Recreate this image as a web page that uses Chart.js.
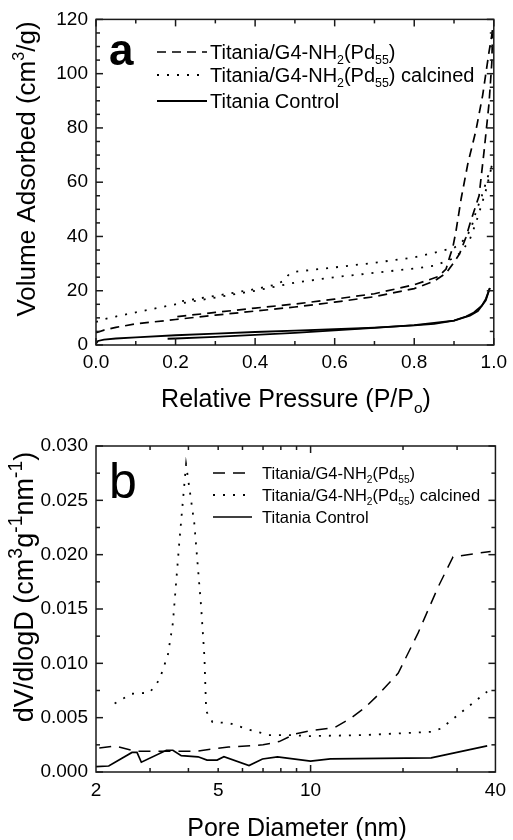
<!DOCTYPE html>
<html>
<head>
<meta charset="utf-8">
<script src="https://cdn.jsdelivr.net/npm/chart.js@4.4.1/dist/chart.umd.min.js"></script>
<style>
  html, body { margin: 0; padding: 0; background: #fff; }
  canvas { display: block; }
</style>
</head>
<body>
<canvas id="iso" width="513" height="420"></canvas>
<canvas id="psd" width="513" height="420"></canvas>
<script>
const FONT = "'Liberation Sans', Arial, Helvetica, sans-serif";

// ---- panel a: N2 isotherms (P/Po, cm3/g) ----
const pdAdsP = [0.0, 0.02, 0.05, 0.1, 0.2, 0.3, 0.4, 0.5, 0.6, 0.7, 0.8, 0.85, 0.88, 0.9, 0.914, 0.93, 0.94, 0.963, 0.976, 0.988, 0.995, 0.997];
const pdAdsV = [4.5, 5.5, 6.5, 7.8, 9.4, 11.0, 12.5, 14.0, 15.8, 17.8, 20.8, 23.5, 26.5, 30.5, 33.6, 39.7, 44.7, 55, 72, 89, 104, 116];
const pdDesP = [0.997, 0.988, 0.972, 0.955, 0.935, 0.918, 0.905, 0.897, 0.889, 0.88, 0.86, 0.8, 0.7, 0.6, 0.5, 0.4, 0.3, 0.2];
const pdDesV = [116, 108, 92, 79, 67, 54, 42, 36, 32.4, 28, 25.2, 22.2, 18.9, 16.9, 15.1, 13.6, 12.0, 10.4];

const calAdsP = [0.0, 0.02, 0.05, 0.1, 0.2, 0.3, 0.4, 0.45, 0.5, 0.6, 0.7, 0.8, 0.85, 0.9, 0.92, 0.94, 0.955, 0.97, 0.982, 0.99, 0.995];
const calAdsV = [8.5, 9.5, 10.5, 12.0, 15.0, 17.5, 20.0, 21.5, 23.0, 25.0, 26.6, 28.2, 29.2, 32.0, 34.5, 39, 45, 52, 58, 63, 66];
const calDesP = [0.995, 0.985, 0.97, 0.955, 0.943, 0.93, 0.915, 0.9, 0.85, 0.8, 0.7, 0.6, 0.5, 0.485, 0.47, 0.45, 0.4, 0.3, 0.2];
const calDesV = [66, 62, 55, 49, 43, 39.5, 37.3, 35.8, 34.0, 32.3, 30.3, 28.6, 27.0, 26.0, 23.5, 22.2, 20.6, 18.1, 15.8];

const ctlAdsP = [0.0, 0.005, 0.02, 0.05, 0.1, 0.2, 0.3, 0.4, 0.5, 0.6, 0.7, 0.8, 0.85, 0.9, 0.93, 0.95, 0.97, 0.98, 0.99];
const ctlAdsV = [0.5, 1.5, 2.0, 2.4, 2.8, 3.6, 4.2, 4.8, 5.3, 5.8, 6.4, 7.2, 7.8, 9.0, 10.5, 12.0, 14.5, 17.0, 21.0];
const ctlDesP = [0.99, 0.98, 0.96, 0.94, 0.9, 0.8, 0.7, 0.6, 0.5, 0.4, 0.3, 0.2, 0.18];
const ctlDesV = [21.0, 16.5, 12.5, 10.8, 9.0, 7.3, 6.3, 5.4, 4.5, 3.7, 3.0, 2.4, 2.3];

// ---- panel b: pore size distribution (nm, cm3 g-1 nm-1) ----
const pdDiam = [2.05, 2.3, 2.7, 3.5, 4.2, 5.4, 7.0, 7.9, 8.9, 10.0, 12.0, 13.6, 15.0, 16.6, 19.3, 22.4, 26.0, 29.1, 38.6];
const pdDv = [0.0022, 0.0024, 0.0019, 0.0019, 0.0019, 0.0023, 0.0025, 0.0028, 0.0035, 0.0038, 0.0041, 0.0050, 0.0059, 0.0071, 0.0091, 0.0128, 0.0170, 0.0198, 0.0203];

const calDiam = [2.3, 2.61, 2.99, 3.22, 3.43, 3.56, 3.74, 3.93, 4.18, 4.40, 4.51, 4.57, 4.79, 5.43, 6.30, 7.31, 8.49, 9.86, 15.0, 24.7, 26.6, 31.6, 37.6];
const calDv = [0.0063, 0.0072, 0.0073, 0.0085, 0.0108, 0.0137, 0.0213, 0.0283, 0.0229, 0.0152, 0.0106, 0.0056, 0.0046, 0.0045, 0.0039, 0.0034, 0.0034, 0.0033, 0.0034, 0.0037, 0.0040, 0.0057, 0.0074];

const ctlDiam = [2.0, 2.2, 2.62, 2.72, 2.81, 3.39, 3.56, 3.79, 4.3, 4.6, 4.96, 5.22, 6.3, 6.97, 7.8, 10.0, 11.6, 24.7, 37.6];
const ctlDv = [0.0005, 0.00055, 0.0018, 0.0018, 0.0009, 0.0020, 0.0020, 0.0015, 0.0014, 0.0011, 0.0011, 0.0014, 0.0006, 0.0012, 0.0014, 0.0010, 0.0012, 0.0013, 0.0024];

// ticks
const isoXMajor = [0, 0.2, 0.4, 0.6, 0.8, 1.0];
const isoXMinor = [0.1, 0.3, 0.5, 0.7, 0.9];
const isoYMajor = [0, 20, 40, 60, 80, 100, 120];
const isoYMinor = [5, 10, 15, 25, 30, 35, 45, 50, 55, 65, 70, 75, 85, 90, 95, 105, 110, 115];
const psdXLabels = [2, 5, 10, 40];
const psdXMajor = [10];
const psdXMinor = [3, 4, 5, 6, 7, 8, 9, 20, 30];
const psdYMajor = [0, 0.005, 0.010, 0.015, 0.020, 0.025, 0.030];
const psdYMinor = [0.0025, 0.0075, 0.0125, 0.0175, 0.0225, 0.0275];

const seriesNames = [
  [["Titania/G4-NH"], ["2", "sub"], ["(Pd"], ["55", "sub"], [")"]],
  [["Titania/G4-NH"], ["2", "sub"], ["(Pd"], ["55", "sub"], [") calcined"]],
  [["Titania Control"]],
];

const pts = (xs, ys) => xs.map((x, i) => ({ x, y: ys[i] }));

function richParts(ctx, parts, size, supScale) {
  let w = 0;
  const out = parts.map(([t, mode]) => {
    const s = mode ? size * (supScale || 0.62) : size;
    const dy = mode === "sub" ? size * 0.24 : mode === "sup" ? -size * 0.42 : 0;
    ctx.font = `${s}px ${FONT}`;
    const width = ctx.measureText(t).width;
    const p = { t, s, dy, x: w };
    w += width;
    return p;
  });
  return { out, w };
}

function drawRich(ctx, parts, x, y, size, align, supScale) {
  const { out, w } = richParts(ctx, parts, size, supScale);
  const x0 = align === "center" ? x - w / 2 : x;
  ctx.textAlign = "left";
  ctx.textBaseline = "alphabetic";
  ctx.fillStyle = "#000";
  for (const p of out) {
    ctx.font = `${p.s}px ${FONT}`;
    ctx.fillText(p.t, x0 + p.x, y + p.dy);
  }
}

const decor = {
  id: "decor",
  afterDatasetsDraw(chart, args, o) {
    const ctx = chart.ctx;
    const { left, right, top, bottom } = chart.chartArea;
    const xs = chart.scales.x, ys = chart.scales.y;
    ctx.save();
    ctx.strokeStyle = "#1a1a1a";
    ctx.lineWidth = 1.5;
    ctx.setLineDash([]);
    const seg = (x1, y1, x2, y2) => { ctx.beginPath(); ctx.moveTo(x1, y1); ctx.lineTo(x2, y2); ctx.stroke(); };
    const tx = (v, len) => { const p = xs.getPixelForValue(v); seg(p, bottom, p, bottom - len); seg(p, top, p, top + len); };
    const ty = (v, len) => { const p = ys.getPixelForValue(v); seg(left, p, left + len, p); seg(right, p, right - len, p); };
    o.xMajor.forEach(v => tx(v, 7));
    o.xMinor.forEach(v => tx(v, 4));
    o.yMajor.forEach(v => ty(v, 7));
    o.yMinor.forEach(v => ty(v, 4));
    ctx.strokeRect(left, top, right - left, bottom - top);

    // panel letter
    ctx.fillStyle = "#000";
    ctx.font = o.letter.font;
    ctx.textAlign = "left";
    ctx.textBaseline = "alphabetic";
    ctx.fillText(o.letter.text, o.letter.x, o.letter.y);

    // legend, styled from the datasets
    const lg = o.legend;
    seriesNames.forEach((parts, i) => {
      const ds = chart.data.datasets[i];
      const y = lg.rows[i];
      ctx.strokeStyle = ds.borderColor;
      ctx.lineWidth = ds.borderWidth;
      ctx.lineCap = ds.borderCapStyle || "butt";
      ctx.setLineDash(ds.borderDash || []);
      seg(lg.x0, y, lg.x1, y);
      ctx.setLineDash([]);
      drawRich(ctx, parts, lg.tx, y + lg.size * 0.37, lg.size, "left");
    });

    // axis titles
    drawRich(ctx, o.xTitle.parts, o.xTitle.x, o.xTitle.y, o.xTitle.size, "center");
    ctx.save();
    ctx.translate(o.yTitle.x, o.yTitle.y);
    ctx.rotate(-Math.PI / 2);
    drawRich(ctx, o.yTitle.parts, 0, 0, o.yTitle.size, "center", o.yTitle.sup);
    ctx.restore();
    ctx.restore();
  },
};

Chart.defaults.font.family = FONT;
Chart.defaults.color = "#000";

const dashA = [9, 6], dotA = [2, 8];
const dashB = [12, 8], dotB = [2, 8];

function lineSet(data, dash, width) {
  return { data, borderColor: "#000", borderWidth: width, borderDash: dash, pointRadius: 0, tension: 0, fill: false };
}

const axisBase = { grid: { display: false, drawTicks: false }, border: { display: false } };

new Chart(document.getElementById("iso"), {
  type: "line",
  data: {
    datasets: [
      lineSet(pts(pdAdsP, pdAdsV), dashA, 1.7),
      lineSet(pts(calAdsP, calAdsV), dotA, 1.8),
      lineSet(pts(ctlAdsP, ctlAdsV), [], 1.8),
      lineSet(pts(pdDesP, pdDesV), dashA, 1.7),
      lineSet(pts(calDesP, calDesV), dotA, 1.8),
      lineSet(pts(ctlDesP, ctlDesV), [], 1.8),
    ],
  },
  options: {
    responsive: false,
    animation: false,
    events: [],
    layout: { padding: { left: 0, right: 15, top: 18, bottom: 0 } },
    plugins: {
      legend: { display: false },
      tooltip: { enabled: false },
      decor: {
        xMajor: isoXMajor, xMinor: isoXMinor, yMajor: isoYMajor, yMinor: isoYMinor,
        letter: { text: "a", x: 109, y: 65, font: `bold 44px ${FONT}` },
        legend: { x0: 157, x1: 207, tx: 210, rows: [52, 75, 101], size: 20 },
        xTitle: { parts: [["Relative Pressure (P/P"], ["o", "sub"], [")"]], x: 296, y: 407, size: 25 },
        yTitle: { parts: [["Volume Adsorbed (cm"], ["3", "sup"], ["/g)"]], x: 35, y: 169, size: 26 },
      },
    },
    scales: {
      x: {
        type: "linear", min: 0, max: 1,
        ...axisBase,
        afterFit: s => { s.height = 75; },
        afterBuildTicks: s => { s.ticks = isoXMajor.map(value => ({ value })); },
        ticks: { padding: 6, font: { size: 19 }, callback: v => v.toFixed(1) },
      },
      y: {
        type: "linear", min: 0, max: 120,
        ...axisBase,
        afterFit: s => { s.width = 96; },
        afterBuildTicks: s => { s.ticks = isoYMajor.map(value => ({ value })); },
        ticks: { padding: 8, font: { size: 19 }, callback: v => String(v) },
      },
    },
  },
  plugins: [decor],
});

new Chart(document.getElementById("psd"), {
  type: "line",
  data: {
    datasets: [
      lineSet(pts(pdDiam, pdDv), dashB, 1.5),
      lineSet(pts(calDiam, calDv), dotB, 1.8),
      lineSet(pts(ctlDiam, ctlDv), [], 1.7),
    ],
  },
  options: {
    responsive: false,
    animation: false,
    events: [],
    layout: { padding: { left: 0, right: 15, top: 26, bottom: 0 } },
    plugins: {
      legend: { display: false },
      tooltip: { enabled: false },
      decor: {
        xMajor: psdXMajor, xMinor: psdXMinor, yMajor: psdYMajor, yMinor: psdYMinor,
        letter: { text: "b", x: 109, y: 78, font: `50px ${FONT}` },
        legend: { x0: 213, x1: 252, tx: 262, rows: [53, 75, 97], size: 16.5 },
        xTitle: { parts: [["Pore Diameter (nm)"]], x: 297, y: 416, size: 25 },
        yTitle: {
          parts: [["dV/dlogD (cm"], ["3", "sup"], ["g"], ["-1", "sup"], ["nm"], ["-1", "sup"], [")"]],
          x: 33, y: 167, size: 27, sup: 0.72,
        },
      },
    },
    scales: {
      x: {
        type: "logarithmic", min: 2, max: 40,
        ...axisBase,
        afterFit: s => { s.height = 68; },
        afterBuildTicks: s => { s.ticks = psdXLabels.map(value => ({ value })); },
        ticks: { padding: 7, font: { size: 19 }, callback: v => String(v) },
      },
      y: {
        type: "linear", min: 0, max: 0.030,
        ...axisBase,
        afterFit: s => { s.width = 96; },
        afterBuildTicks: s => { s.ticks = psdYMajor.map(value => ({ value })); },
        ticks: { padding: 8, font: { size: 19 }, callback: v => v.toFixed(3) },
      },
    },
  },
  plugins: [decor],
});
</script>
</body>
</html>
